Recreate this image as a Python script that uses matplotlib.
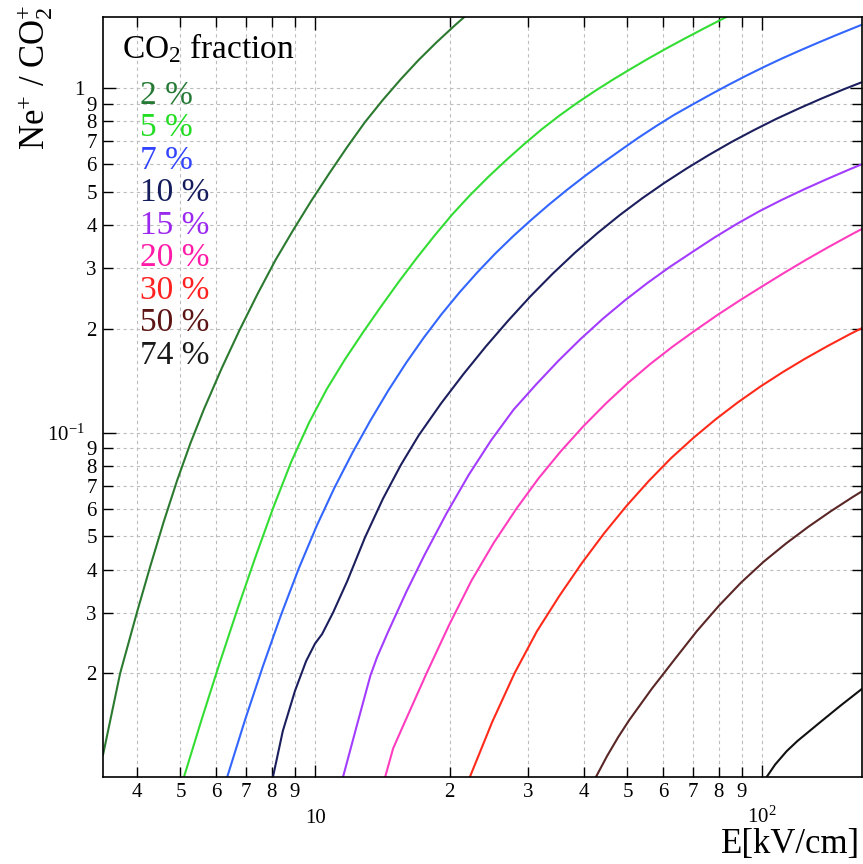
import numpy as np
import matplotlib
matplotlib.use('Agg')
import matplotlib.pyplot as plt
from matplotlib.ticker import FixedLocator, LogLocator, FuncFormatter

plt.rcParams['font.family'] = 'Liberation Serif'
plt.rcParams['mathtext.fontset'] = 'custom'
plt.rcParams['mathtext.rm'] = 'Liberation Serif'
plt.rcParams['mathtext.it'] = 'Liberation Serif:italic'

# field strength E [kV/cm] and Ne+/CO2+ ratio, one pair per CO2 fraction
e_2 = [3.355, 3.664, 3.994, 4.28, 4.586, 4.914, 5.265, 5.642, 6.186, 6.783, 7.437, 8.154,
       8.941, 9.804, 10.75, 11.79, 12.92, 14.17, 15.54, 17.04, 18.68, 20.48, 22.46]
r_2 = [0.0116, 0.02, 0.03, 0.04093, 0.05508, 0.07261, 0.09325, 0.1169, 0.1539, 0.1988, 0.2526, 0.3166,
       0.3876, 0.4703, 0.5644, 0.6733, 0.7951, 0.9229, 1.0598, 1.2056, 1.3564, 1.515, 1.6845]

e_5 = [5.09, 5.581, 6.12, 6.71, 7.357, 8.067, 8.845, 9.698, 10.63, 11.66, 12.79, 14.02,
       15.37, 16.85, 18.48, 20.26, 22.22, 24.36, 26.71, 29.29, 32.12, 35.21, 38.61,
       42.34, 46.42, 50.9, 55.81, 61.2, 67.1, 73.57, 80.67, 88.45]
r_5 = [0.01, 0.01475, 0.02146, 0.03079, 0.04352, 0.06064, 0.08219, 0.1069, 0.1339, 0.1629, 0.195, 0.2314,
       0.2732, 0.32, 0.3722, 0.4293, 0.4887, 0.5508, 0.6161, 0.6855, 0.7586, 0.8318, 0.9063,
       0.9817, 1.0588, 1.1376, 1.2203, 1.3049, 1.3917, 1.4819, 1.5761, 1.6749]

e_7 = [6.36, 6.974, 7.647, 8.385, 9.194, 10.08, 11.05, 12.12, 13.29, 14.57, 15.98, 17.52,
       19.21, 21.06, 23.09, 25.32, 27.77, 30.44, 33.38, 36.6, 40.13, 44.0, 48.25, 52.91,
       58.01, 63.61, 69.74, 76.47, 83.85, 91.94, 100.8, 110.5, 121.2, 132.9, 145.7, 159.8, 175.2]
r_7 = [0.01, 0.01466, 0.02099, 0.02945, 0.04029, 0.05351, 0.06912, 0.08726, 0.1082, 0.1322, 0.1592, 0.1888,
       0.221, 0.2554, 0.2921, 0.3311, 0.3719, 0.4142, 0.4592, 0.5062, 0.5553, 0.6064, 0.6601, 0.7178,
       0.7762, 0.8363, 0.8945, 0.9559, 1.0195, 1.0844, 1.1502, 1.2167, 1.2833, 1.3513, 1.4205, 1.4914, 1.5644]

e_10 = [8.05, 8.47, 9.02, 9.55, 10.0, 10.37, 10.97, 11.8, 12.94, 14.19, 15.56, 17.06,
        19.14, 21.47, 24.09, 27.03, 30.33, 34.03, 38.18, 42.84, 48.07, 53.93, 60.51,
        67.90, 76.18, 85.48, 95.92, 107.6, 120.8, 135.5, 152.0, 170.6]
r_10 = [0.01, 0.0136, 0.0178, 0.0217, 0.0244, 0.026, 0.03, 0.037, 0.04966, 0.06427, 0.08054, 0.09817,
        0.1215, 0.1477, 0.1776, 0.2111, 0.2486, 0.2893, 0.3331, 0.3793, 0.4280, 0.4786, 0.5309,
        0.5848, 0.6403, 0.6976, 0.7551, 0.8138, 0.8720, 0.9311, 0.9908, 1.0507]

e_15 = [11.55, 12.4, 13.3, 13.77, 14.58, 15.99, 17.54, 19.68, 22.08, 24.77, 27.79, 31.18,
        34.99, 39.26, 44.05, 49.43, 55.46, 62.23, 69.82, 78.34, 87.90, 98.63, 110.7,
        124.2, 139.3, 156.3, 175.4]
r_15 = [0.01, 0.0141, 0.0197, 0.02231, 0.02645, 0.0344, 0.0439, 0.05821, 0.07542, 0.09495, 0.1164, 0.1376,
        0.1613, 0.1868, 0.2140, 0.2424, 0.2720, 0.3027, 0.3342, 0.3686, 0.4036, 0.4390, 0.4737,
        0.5082, 0.5433, 0.5794, 0.6166]

e_20 = [14.35, 14.95, 15.85, 17.78, 19.95, 22.39, 25.12, 28.18, 31.62, 35.48, 39.81, 44.67,
        50.12, 56.23, 63.10, 70.79, 79.43, 89.13, 100.0, 112.2, 125.9, 141.3, 158.5, 177.8]
r_20 = [0.01, 0.0121, 0.01437, 0.02006, 0.02763, 0.03718, 0.0479, 0.05996, 0.0736, 0.08829, 0.1042, 0.1212,
        0.1393, 0.1581, 0.1776, 0.1977, 0.2193, 0.2418, 0.2655, 0.2911, 0.3181, 0.3464, 0.3758, 0.4064]

e_30 = [22.2, 24.91, 27.95, 31.36, 35.19, 39.48, 44.30, 49.71, 55.77, 62.58, 70.22, 78.79,
        88.40, 99.17, 111.3, 124.9, 140.1, 157.2, 176.4]
r_30 = [0.01, 0.01445, 0.02002, 0.02649, 0.03353, 0.04169, 0.05093, 0.06115, 0.07228, 0.08425, 0.09649, 0.1093,
        0.1225, 0.136, 0.1498, 0.1639, 0.1782, 0.193, 0.208]

e_50 = [42.5, 45.02, 47.69, 50.51, 56.68, 63.59, 71.35, 80.06, 89.82, 100.8, 113.1, 126.9,
        142.4, 159.7, 179.2]
r_50 = [0.01, 0.01151, 0.01307, 0.01466, 0.01804, 0.02186, 0.02644, 0.03141, 0.03671, 0.04215, 0.04761, 0.05324,
        0.05905, 0.06504, 0.07132]

e_74 = [102.4, 107.0, 113.5, 120.0, 135.0, 150.0, 168.0]
r_74 = [0.01, 0.01087, 0.01188, 0.01272, 0.01443, 0.01613, 0.0181]

fractions = ['2', '5', '7', '10', '15', '20', '30', '50', '74']
line_colors = ['#2b7a30', '#33dd33', '#3366ff', '#1c1f5e', '#a33cff',
               '#ff3dbe', '#ff2a1a', '#5a2626', '#111111']
text_colors = ['#267a36', '#22dd22', '#3344ff', '#141c5c', '#9b28ee',
               '#ff1aa8', '#ff2020', '#5c1414', '#1a1a1a']

curves = [(e_2, r_2), (e_5, r_5), (e_7, r_7), (e_10, r_10), (e_15, r_15),
          (e_20, r_20), (e_30, r_30), (e_50, r_50), (e_74, r_74)]

fig = plt.figure(figsize=(8.63, 8.64), dpi=100)
ax = fig.add_axes([0.1194, 0.1007, 0.8795, 0.8796])

for (e, r), c in zip(curves, line_colors):
    ax.plot(e, r, color=c, lw=1.5, solid_joinstyle='round')

ax.set_xscale('log')
ax.set_yscale('log')
ax.set_xlim(3.355, 167.4)
ax.set_ylim(0.01, 1.608)


def digit_label(v, pos):
    return '%d' % round(v / 10 ** np.floor(np.log10(v) + 1e-9))


major_x = {10: '10', 100: '$10^{2}$'}
major_y = {0.1: '$10^{-1}$', 1: '1'}

ax.xaxis.set_major_locator(FixedLocator(list(major_x)))
ax.xaxis.set_major_formatter(FuncFormatter(lambda v, p: major_x.get(round(v), '')))
ax.yaxis.set_major_locator(FixedLocator(list(major_y)))
ax.yaxis.set_major_formatter(FuncFormatter(lambda v, p: major_y.get(round(v, 3), '')))
for axis in (ax.xaxis, ax.yaxis):
    axis.set_minor_locator(LogLocator(base=10, subs=np.arange(2, 10), numticks=30))
    axis.set_minor_formatter(FuncFormatter(digit_label))

ax.tick_params(which='both', direction='in', top=True, right=True,
               labelsize=15, color='black', width=1)
ax.tick_params(which='major', length=9)
ax.tick_params(which='minor', length=7)
ax.tick_params(axis='x', which='minor', pad=4)
ax.tick_params(axis='x', which='major', pad=33)
ax.tick_params(axis='y', which='minor', pad=4.5)
ax.tick_params(axis='y', which='major', pad=13)
for t in ax.xaxis.get_major_ticks():
    t.label1.set_va('baseline')

ax.grid(which='both', color='#bdbdbd', linestyle=(0, (3, 3)), linewidth=0.8)
ax.set_axisbelow(True)
for s in ax.spines.values():
    s.set_linewidth(1.2)
    s.set_color('black')

ax.text(0.025, 0.959, 'CO$_2$ fraction', transform=ax.transAxes,
        fontsize=24, ha='left', va='center')
for i, (f, c) in enumerate(zip(fractions, text_colors)):
    ax.text(0.0487, 0.897 - i * 0.0428, f + ' %', transform=ax.transAxes,
            fontsize=24, color=c, ha='left', va='center')

fig.text(0.040, 0.995, 'Ne$^{+}$ / CO$_{2}^{+}$', rotation=90,
         fontsize=25, ha='center', va='top')
fig.text(0.9965, 1 - 853 / 864, 'E[kV/cm]', fontsize=25, ha='right', va='baseline')

fig.savefig('out.png', dpi=100)
